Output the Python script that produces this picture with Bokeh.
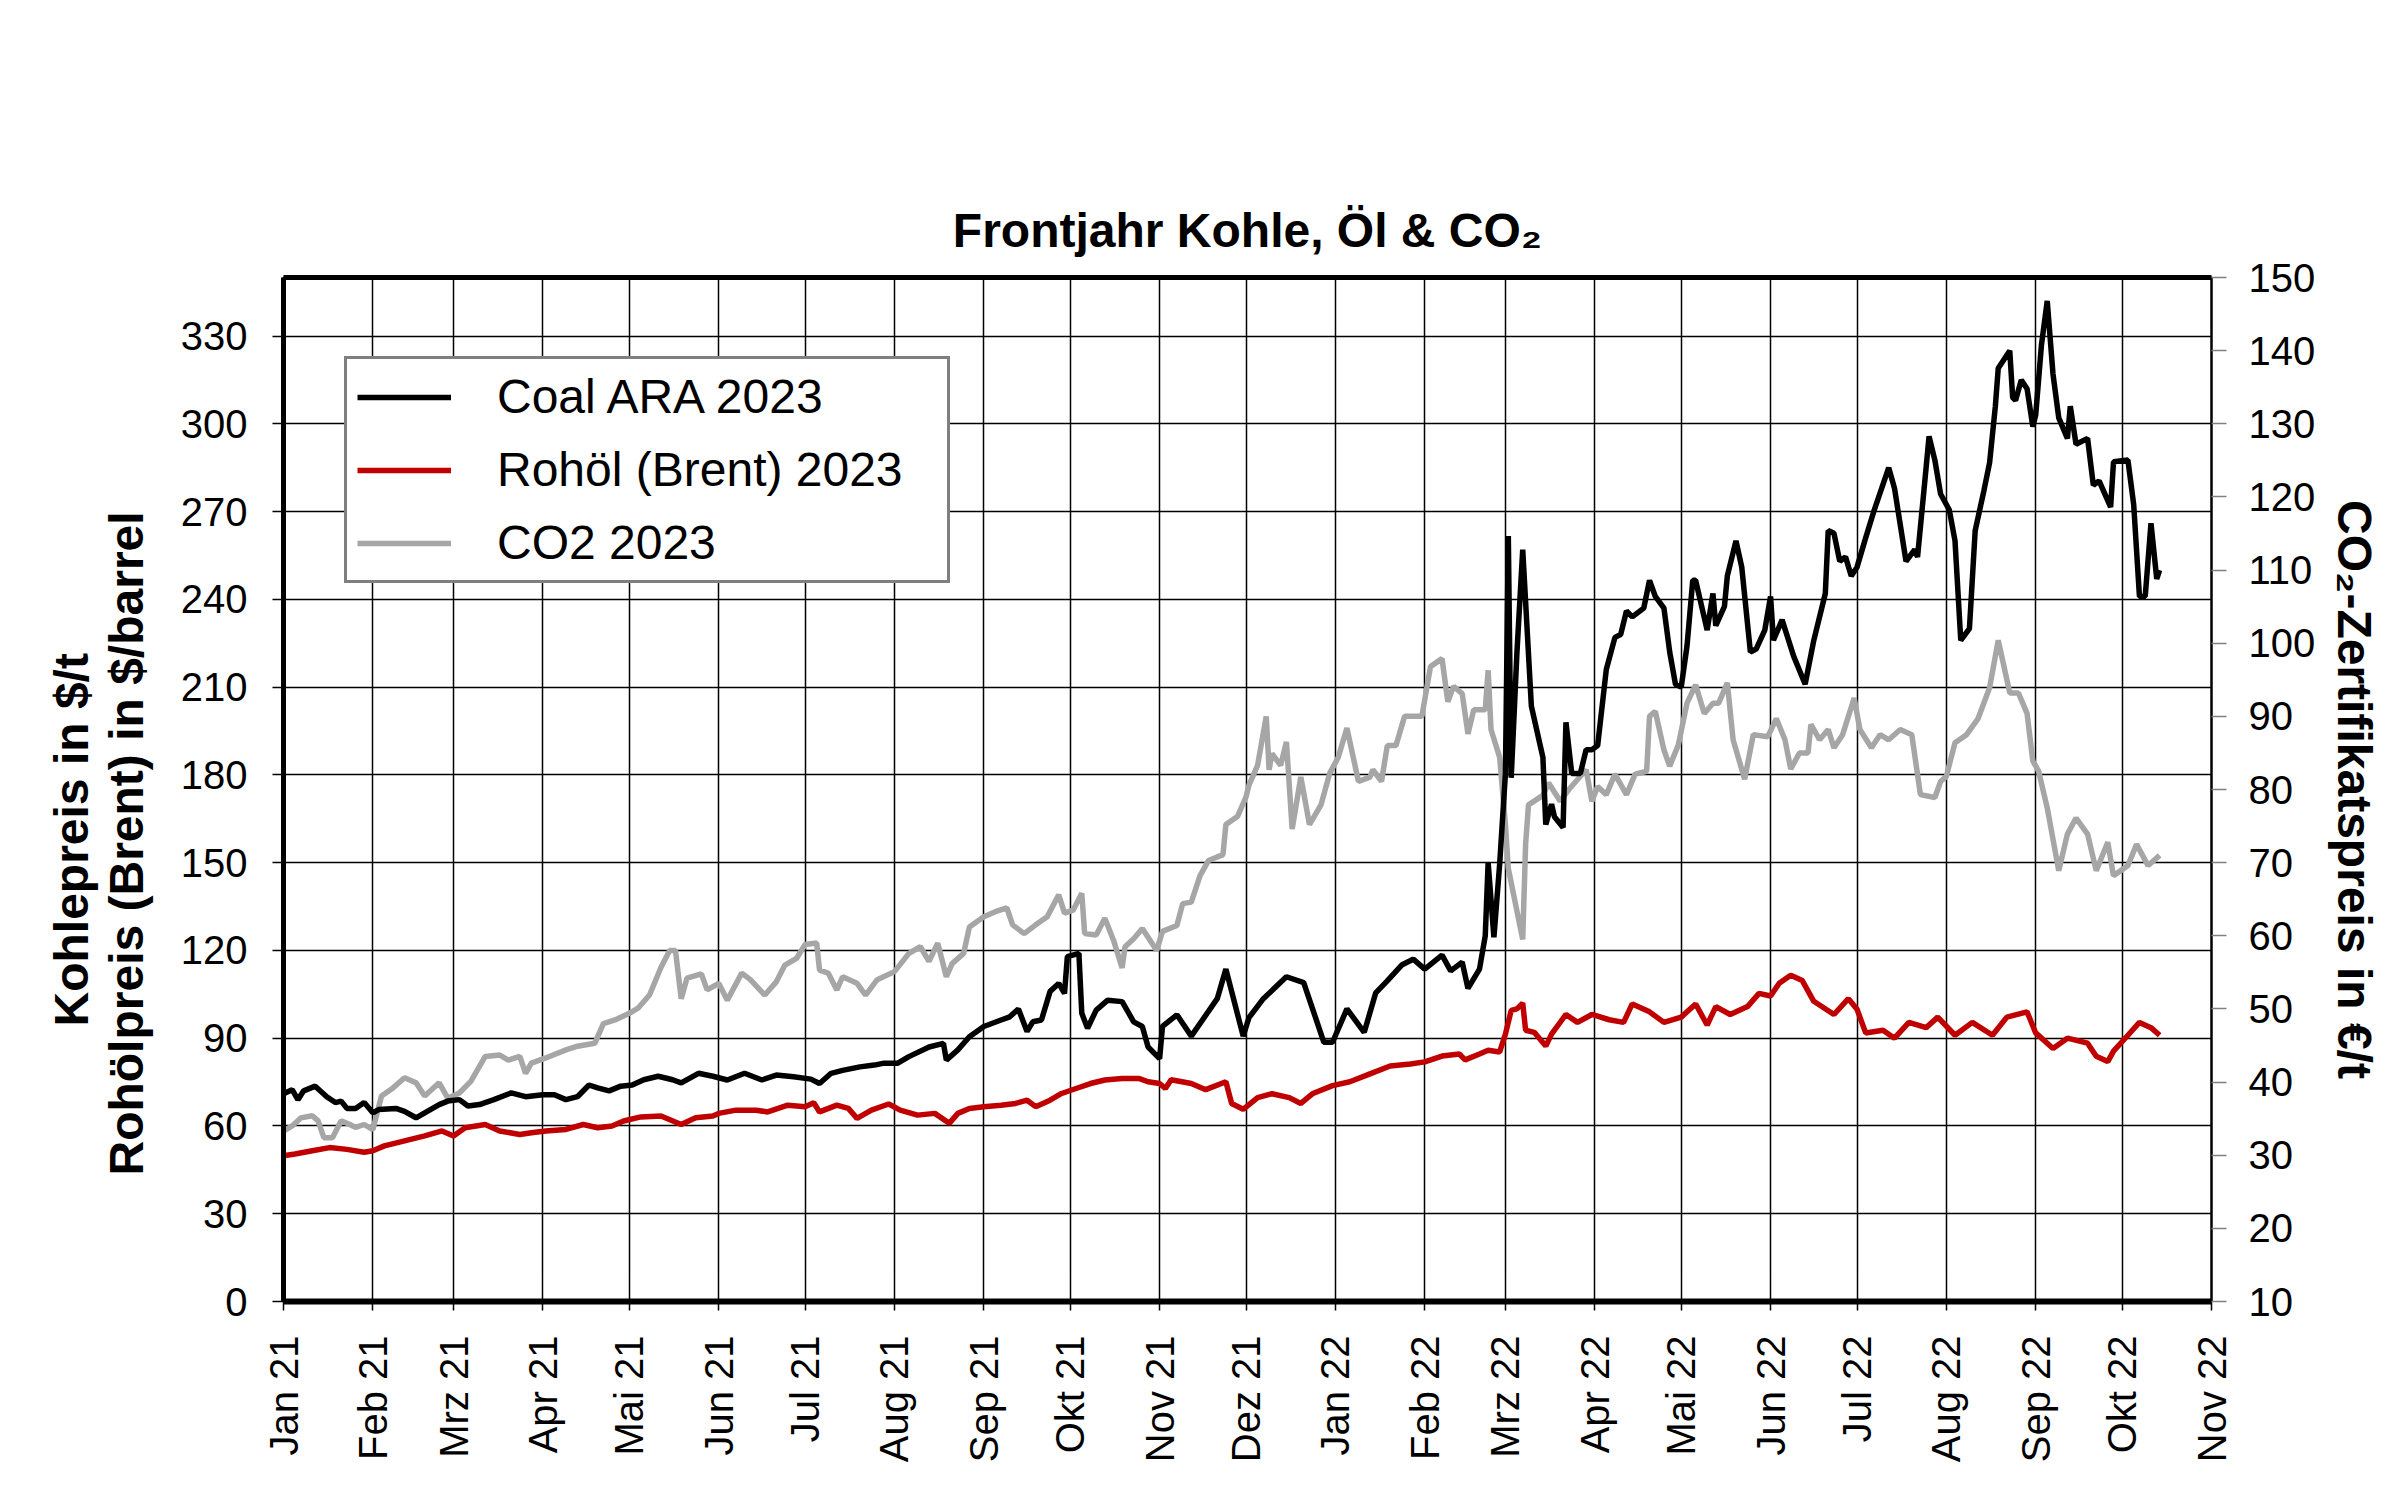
import math
import pandas as pd
from bokeh.plotting import figure
from bokeh.models import Range1d, LinearAxis, FixedTicker, Legend, LegendItem, Title, ColumnDataSource
from bokeh.embed import file_html
from bokeh.resources import INLINE

FONT = "Liberation Sans"

# ---------------- data ----------------
month_starts = ["2021-01-01", "2021-02-01", "2021-03-01", "2021-04-01", "2021-05-01", "2021-06-01",
                "2021-07-01", "2021-08-01", "2021-09-01", "2021-10-01", "2021-11-01", "2021-12-01",
                "2022-01-01", "2022-02-01", "2022-03-01", "2022-04-01", "2022-05-01", "2022-06-01",
                "2022-07-01", "2022-08-01", "2022-09-01", "2022-10-01", "2022-11-01"]
month_labels = ["Jan 21", "Feb 21", "Mrz 21", "Apr 21", "Mai 21", "Jun 21", "Jul 21", "Aug 21",
                "Sep 21", "Okt 21", "Nov 21", "Dez 21", "Jan 22", "Feb 22", "Mrz 22", "Apr 22",
                "Mai 22", "Jun 22", "Jul 22", "Aug 22", "Sep 22", "Okt 22", "Nov 22"]
left_ticks = [0, 30, 60, 90, 120, 150, 180, 210, 240, 270, 300, 330]
right_ticks = [10, 20, 30, 40, 50, 60, 70, 80, 90, 100, 110, 120, 130, 140, 150]

coal_dates = [
    "2021-01-01", "2021-01-04", "2021-01-06", "2021-01-08", "2021-01-12", "2021-01-16", "2021-01-19",
    "2021-01-21", "2021-01-23", "2021-01-26", "2021-01-29", "2021-02-01", "2021-02-03", "2021-02-09",
    "2021-02-12", "2021-02-16", "2021-02-19", "2021-02-24", "2021-02-27", "2021-03-03", "2021-03-06",
    "2021-03-10", "2021-03-15", "2021-03-21", "2021-03-26", "2021-04-01", "2021-04-05", "2021-04-09",
    "2021-04-13", "2021-04-17", "2021-04-20", "2021-04-24", "2021-04-28", "2021-05-02", "2021-05-06",
    "2021-05-11", "2021-05-16", "2021-05-19", "2021-05-25", "2021-05-30", "2021-06-04", "2021-06-10",
    "2021-06-16", "2021-06-21", "2021-06-27", "2021-07-03", "2021-07-06", "2021-07-10", "2021-07-14",
    "2021-07-20", "2021-07-25", "2021-07-28", "2021-08-02", "2021-08-06", "2021-08-13", "2021-08-18",
    "2021-08-19", "2021-08-23", "2021-08-27", "2021-09-01", "2021-09-07", "2021-09-10", "2021-09-13",
    "2021-09-16", "2021-09-18", "2021-09-21", "2021-09-24", "2021-09-27", "2021-09-29", "2021-09-30",
    "2021-10-04", "2021-10-05", "2021-10-07", "2021-10-10", "2021-10-14", "2021-10-19", "2021-10-23",
    "2021-10-26", "2021-10-28", "2021-11-01", "2021-11-02", "2021-11-07", "2021-11-12", "2021-11-21",
    "2021-11-24", "2021-11-30", "2021-12-02", "2021-12-07", "2021-12-15", "2021-12-21", "2021-12-28",
    "2021-12-31", "2022-01-05", "2022-01-11", "2022-01-15", "2022-01-19", "2022-01-24", "2022-01-28",
    "2022-02-01", "2022-02-07", "2022-02-10", "2022-02-14", "2022-02-16", "2022-02-20", "2022-02-22",
    "2022-02-23", "2022-02-25", "2022-02-27", "2022-03-01", "2022-03-02", "2022-03-03", "2022-03-05",
    "2022-03-07", "2022-03-10", "2022-03-14", "2022-03-15", "2022-03-17", "2022-03-18", "2022-03-21",
    "2022-03-22", "2022-03-24", "2022-03-27", "2022-03-29", "2022-03-31", "2022-04-02", "2022-04-05",
    "2022-04-08", "2022-04-10", "2022-04-12", "2022-04-14", "2022-04-18", "2022-04-20", "2022-04-22",
    "2022-04-25", "2022-04-27", "2022-04-29", "2022-05-01", "2022-05-03", "2022-05-05", "2022-05-06",
    "2022-05-10", "2022-05-12", "2022-05-13", "2022-05-16", "2022-05-17", "2022-05-20", "2022-05-22",
    "2022-05-25", "2022-05-27", "2022-05-30", "2022-06-01", "2022-06-02", "2022-06-05", "2022-06-09",
    "2022-06-13", "2022-06-16", "2022-06-20", "2022-06-21", "2022-06-23", "2022-06-25", "2022-06-27",
    "2022-06-29", "2022-07-01", "2022-07-04", "2022-07-07", "2022-07-12", "2022-07-14", "2022-07-18",
    "2022-07-21", "2022-07-22", "2022-07-24", "2022-07-26", "2022-07-28", "2022-07-30", "2022-08-02",
    "2022-08-04", "2022-08-06", "2022-08-09", "2022-08-11", "2022-08-14", "2022-08-16", "2022-08-18",
    "2022-08-19", "2022-08-23", "2022-08-24", "2022-08-25", "2022-08-27", "2022-08-29", "2022-08-31",
    "2022-09-01", "2022-09-03", "2022-09-05", "2022-09-07", "2022-09-09", "2022-09-12", "2022-09-13",
    "2022-09-15", "2022-09-19", "2022-09-21", "2022-09-23", "2022-09-27", "2022-09-28", "2022-10-03",
    "2022-10-05", "2022-10-07", "2022-10-09", "2022-10-11", "2022-10-13", "2022-10-14"]
coal_values = [
    71, 72.4, 69, 72, 73.6, 70, 68,
    68.5, 66, 66, 68, 64.5, 65.6, 66,
    65, 62.8, 64.5, 67.3, 68.5, 69, 66.8,
    67.3, 69, 71.3, 70, 70.7, 70.7, 69,
    70, 74, 73, 72, 73.6, 74, 75.8,
    77, 75.8, 74.7, 78, 77, 75.7, 78,
    75.7, 77.4, 76.8, 76, 74.5, 78, 79,
    80.2, 80.8, 81.4, 81.4, 83.7, 87, 88.2,
    82.5, 86, 90.5, 94, 96.2, 97.3, 100,
    92.3, 95.6, 96.2, 106, 108.7, 105.3, 117.9,
    119, 98.5, 93.4, 99.6, 103, 102.5, 95.6,
    94, 87, 83, 94, 98, 90.7, 103.5,
    113.6, 90.7, 97, 103.5, 111, 109, 88.6,
    88.6, 100, 92, 105.5, 109.6, 115, 117,
    113.6, 118.4, 113, 116, 107, 113.6, 125,
    150, 124.5, 149.5, 180.5, 261.6, 179, 222,
    257, 203.5, 186, 163, 170, 165.7, 162,
    198, 180.5, 180.5, 188.6, 188.6, 190, 216,
    227, 228, 236, 234, 237, 246.5, 241,
    237, 222, 211, 210, 224, 246.5, 246.5,
    229.5, 242, 231, 237.6, 248, 260, 251,
    222, 223, 229.5, 241, 226, 233, 220.6,
    211, 226, 242, 263.5, 262.6, 253, 254.5,
    248, 251, 261, 270.6, 285, 278, 253,
    257, 254.5, 275, 295.7, 287.6, 276, 270.6,
    260, 226, 230, 263.5, 277, 286.7, 306,
    319, 325, 309, 308, 315, 312, 299,
    303, 327, 342, 317, 302, 295, 306,
    293, 295, 279, 280.5, 271.5, 287, 287.6,
    272.4, 241, 241, 266, 247, 250]

brent_dates = [
    "2021-01-01", "2021-01-05", "2021-01-11", "2021-01-17", "2021-01-23", "2021-01-29", "2021-02-01",
    "2021-02-05", "2021-02-12", "2021-02-19", "2021-02-25", "2021-03-01", "2021-03-05", "2021-03-12",
    "2021-03-17", "2021-03-24", "2021-03-28", "2021-04-02", "2021-04-09", "2021-04-15", "2021-04-20",
    "2021-04-25", "2021-04-29", "2021-05-05", "2021-05-12", "2021-05-19", "2021-05-24", "2021-05-30",
    "2021-06-01", "2021-06-07", "2021-06-14", "2021-06-18", "2021-06-25", "2021-07-01", "2021-07-04",
    "2021-07-06", "2021-07-12", "2021-07-16", "2021-07-19", "2021-07-24", "2021-07-30", "2021-08-03",
    "2021-08-09", "2021-08-15", "2021-08-20", "2021-08-23", "2021-08-27", "2021-09-01", "2021-09-07",
    "2021-09-12", "2021-09-16", "2021-09-19", "2021-09-24", "2021-09-28", "2021-10-03", "2021-10-08",
    "2021-10-13", "2021-10-19", "2021-10-25", "2021-10-28", "2021-11-01", "2021-11-03", "2021-11-05",
    "2021-11-12", "2021-11-17", "2021-11-24", "2021-11-26", "2021-11-30", "2021-12-05", "2021-12-10",
    "2021-12-16", "2021-12-20", "2021-12-24", "2021-12-31", "2022-01-06", "2022-01-13", "2022-01-20",
    "2022-01-27", "2022-02-01", "2022-02-07", "2022-02-13", "2022-02-15", "2022-02-20", "2022-02-23",
    "2022-02-27", "2022-03-01", "2022-03-03", "2022-03-05", "2022-03-07", "2022-03-08", "2022-03-11",
    "2022-03-15", "2022-03-17", "2022-03-22", "2022-03-26", "2022-03-31", "2022-04-06", "2022-04-11",
    "2022-04-14", "2022-04-20", "2022-04-25", "2022-05-01", "2022-05-06", "2022-05-10", "2022-05-13",
    "2022-05-18", "2022-05-24", "2022-05-28", "2022-06-01", "2022-06-04", "2022-06-08", "2022-06-12",
    "2022-06-16", "2022-06-23", "2022-06-28", "2022-07-01", "2022-07-04", "2022-07-10", "2022-07-14",
    "2022-07-19", "2022-07-25", "2022-07-29", "2022-08-04", "2022-08-10", "2022-08-17", "2022-08-22",
    "2022-08-29", "2022-09-01", "2022-09-07", "2022-09-12", "2022-09-19", "2022-09-22", "2022-09-26",
    "2022-09-28", "2022-10-03", "2022-10-07", "2022-10-11", "2022-10-14"]
brent_values = [
    49.8, 50.4, 51.5, 52.6, 52, 51, 51.5,
    53.2, 54.9, 56.6, 58.3, 56.6, 59.4, 60.5,
    58.3, 57.1, 57.7, 58.3, 58.8, 60.5, 59.4,
    60, 61.7, 63.1, 63.4, 60.5, 62.8, 63.4,
    64.3, 65.4, 65.4, 64.8, 67.1, 66.6, 67.9,
    64.8, 67.1, 66, 62.6, 65.4, 67.5, 65.4,
    63.7, 64.3, 60.9, 64.3, 66, 66.6, 67.1,
    67.7, 68.8, 66.6, 68.8, 71.1, 72.8, 74.5,
    75.7, 76.2, 76.2, 75.1, 74.5, 72.8, 75.8,
    74.5, 72.4, 75.1, 67.7, 65.7, 69.7, 71,
    69.7, 67.7, 71, 73.8, 75.1, 77.8, 80.5,
    81.2, 81.9, 83.9, 84.6, 82.6, 84.6, 85.9,
    85.3, 91.4, 99.5, 100, 102, 92.7, 92,
    87.3, 91.4, 98.1, 95.4, 98.1, 96.3, 95.4,
    101.7, 99, 95.4, 97.2, 101.7, 94.5, 100.8,
    98.1, 100.8, 105.3, 104.4, 108.8, 111.5, 109.7,
    102.6, 98.1, 103.5, 99.9, 91.8, 92.7, 90,
    95.4, 93.6, 97.2, 91, 95.4, 91, 97.2,
    99, 91.8, 86.5, 90, 88.3, 83.8, 82,
    85.6, 91, 95.4, 93.6, 91]

co2_dates = [
    "2021-01-01", "2021-01-04", "2021-01-07", "2021-01-11", "2021-01-13", "2021-01-15", "2021-01-18",
    "2021-01-21", "2021-01-24", "2021-01-26", "2021-01-29", "2021-02-01", "2021-02-04", "2021-02-08",
    "2021-02-12", "2021-02-16", "2021-02-19", "2021-02-24", "2021-02-27", "2021-03-03", "2021-03-07",
    "2021-03-12", "2021-03-17", "2021-03-20", "2021-03-24", "2021-03-26", "2021-03-28", "2021-04-02",
    "2021-04-09", "2021-04-13", "2021-04-19", "2021-04-22", "2021-04-26", "2021-05-01", "2021-05-04",
    "2021-05-08", "2021-05-12", "2021-05-15", "2021-05-17", "2021-05-19", "2021-05-21", "2021-05-26",
    "2021-05-28", "2021-06-01", "2021-06-04", "2021-06-09", "2021-06-12", "2021-06-17", "2021-06-21",
    "2021-06-24", "2021-06-28", "2021-07-01", "2021-07-05", "2021-07-06", "2021-07-09", "2021-07-12",
    "2021-07-14", "2021-07-19", "2021-07-22", "2021-07-26", "2021-08-01", "2021-08-06", "2021-08-10",
    "2021-08-13", "2021-08-16", "2021-08-19", "2021-08-21", "2021-08-25", "2021-08-27", "2021-09-01",
    "2021-09-05", "2021-09-09", "2021-09-11", "2021-09-15", "2021-09-19", "2021-09-23", "2021-09-27",
    "2021-09-29", "2021-10-02", "2021-10-05", "2021-10-06", "2021-10-10", "2021-10-13", "2021-10-16",
    "2021-10-19", "2021-10-20", "2021-10-23", "2021-10-26", "2021-10-31", "2021-11-02", "2021-11-07",
    "2021-11-09", "2021-11-12", "2021-11-15", "2021-11-18", "2021-11-23", "2021-11-24", "2021-11-28",
    "2021-12-01", "2021-12-02", "2021-12-05", "2021-12-08", "2021-12-09", "2021-12-10", "2021-12-13",
    "2021-12-15", "2021-12-17", "2021-12-20", "2021-12-23", "2021-12-27", "2021-12-30", "2022-01-02",
    "2022-01-05", "2022-01-09", "2022-01-13", "2022-01-14", "2022-01-17", "2022-01-19", "2022-01-22",
    "2022-01-25", "2022-01-31", "2022-02-03", "2022-02-07", "2022-02-09", "2022-02-11", "2022-02-14",
    "2022-02-16", "2022-02-18", "2022-02-22", "2022-02-23", "2022-02-24", "2022-02-27", "2022-03-01",
    "2022-03-02", "2022-03-07", "2022-03-08", "2022-03-09", "2022-03-14", "2022-03-16", "2022-03-20",
    "2022-03-23", "2022-03-29", "2022-03-31", "2022-04-02", "2022-04-05", "2022-04-08", "2022-04-12",
    "2022-04-15", "2022-04-19", "2022-04-20", "2022-04-22", "2022-04-25", "2022-04-27", "2022-04-30",
    "2022-05-03", "2022-05-06", "2022-05-09", "2022-05-12", "2022-05-14", "2022-05-17", "2022-05-19",
    "2022-05-23", "2022-05-26", "2022-05-31", "2022-06-03", "2022-06-06", "2022-06-08", "2022-06-11",
    "2022-06-14", "2022-06-15", "2022-06-18", "2022-06-21", "2022-06-23", "2022-06-26", "2022-06-30",
    "2022-07-02", "2022-07-06", "2022-07-09", "2022-07-12", "2022-07-16", "2022-07-20", "2022-07-23",
    "2022-07-28", "2022-07-30", "2022-08-01", "2022-08-04", "2022-08-08", "2022-08-12", "2022-08-16",
    "2022-08-19", "2022-08-23", "2022-08-26", "2022-08-29", "2022-08-31", "2022-09-02", "2022-09-05",
    "2022-09-09", "2022-09-12", "2022-09-15", "2022-09-19", "2022-09-22", "2022-09-26", "2022-09-28",
    "2022-10-03", "2022-10-06", "2022-10-10", "2022-10-14"]
co2_values = [
    33.3, 34, 35.1, 35.4, 34.7, 32.4, 32.4,
    34.7, 34.2, 33.8, 34.2, 33.5, 38.1, 39.2,
    40.6, 39.9, 38.1, 39.9, 37.8, 38.5, 40.1,
    43.5, 43.7, 43, 43.5, 41.2, 42.6, 43.3,
    44.4, 44.9, 45.3, 48, 48.5, 49.4, 50.1,
    51.9, 55.7, 58, 58, 51.4, 54.2, 54.8,
    52.6, 53.5, 51.2, 54.9, 54, 51.9, 53.7,
    56, 56.9, 58.8, 59, 55.3, 54.9, 52.6,
    54.4, 53.5, 51.9, 54, 55.1, 57.6, 58.5,
    56.5, 59, 54.4, 56.2, 57.6, 61.2, 62.6,
    63.3, 63.8, 61.5, 60.3, 61.5, 62.6, 65.6,
    63.1, 63.5, 65.8, 60.3, 60.1, 62.4, 59.4,
    55.6, 58.5, 59.6, 61, 58, 60.6, 61.4,
    64.4, 64.6, 68.2, 70.3, 71.1, 75.2, 76.3,
    79, 80.6, 83.3, 90, 82.7, 84.9, 83.3,
    86.5, 74.6, 81.7, 75.2, 77.9, 82.2, 84.4,
    88.4, 81.1, 81.7, 82.7, 81.1, 86, 86,
    90, 90, 96.8, 97.9, 92, 94.1, 93.1,
    87.6, 90.9, 90.9, 96.3, 88.2, 84.4, 75.2,
    69.2, 59.5, 72.5, 77.9, 79.2, 80.9, 78.4,
    80, 82.7, 78.4, 80.4, 79.3, 82.1, 79.3,
    82.1, 82.5, 90, 90.7, 85.4, 83.2, 86.1,
    91.8, 94.3, 90.4, 91.8, 91.8, 94.6, 86.8,
    81.4, 87.5, 87.2, 89.7, 86.8, 82.8, 85,
    85, 88.9, 86.8, 88.2, 85.7, 87.5, 92.5,
    88.2, 85.7, 87.5, 86.8, 88.2, 87.5, 79.3,
    78.9, 81.1, 81.8, 86.4, 87.5, 89.7, 93.9,
    100.4, 93.2, 93.2, 90.4, 83.9, 82.5, 77.5,
    68.9, 73.9, 76.1, 73.9, 68.9, 72.8, 68.2,
    69.6, 72.5, 69.6, 71]

series_names = ["Coal ARA 2023", "Rohöl (Brent) 2023", "CO2 2023"]
title_text = "Frontjahr Kohle, Öl & CO\u2082"
left_label_1 = "Kohlepreis in $/t"
left_label_2 = "Rohölpreis (Brent) in $/barrel"
right_label = "CO\u2082-Zertifikatspreis in €/t"

# ---------------- figure ----------------
month_ms = [int(pd.Timestamp(d).value // 10**6) for d in month_starts]

p = figure(width=2384, height=1469, x_axis_type="datetime",
           x_range=Range1d(start=month_ms[0], end=month_ms[-1]),
           y_range=Range1d(start=0, end=350),
           output_backend="svg", toolbar_location=None,
           min_border_left=283, min_border_right=168, min_border_top=277, min_border_bottom=168,
           background_fill_color="white", border_fill_color="white")
p.extra_y_ranges = {"co2": Range1d(start=10, end=150)}
p.outline_line_color = "black"
p.outline_line_width = 2

# title
p.title.text = title_text
p.title.align = "center"
p.title.text_font = FONT
p.title.text_font_size = "48px"
p.title.text_font_style = "bold"
p.title.text_color = "black"
p.title.standoff = 42

# grids
xticker = FixedTicker(ticks=month_ms)
yticker = FixedTicker(ticks=left_ticks)
p.xgrid.ticker = xticker
p.ygrid.ticker = yticker
for g in (p.xgrid[0], p.ygrid[0]):
    g.grid_line_color = "black"
    g.grid_line_width = 1.5
    g.grid_line_alpha = 1.0

# x axis
xax = p.xaxis[0]
xax.ticker = xticker
xax.major_label_overrides = {t: lab for t, lab in zip(month_ms, month_labels)}
xax.major_label_orientation = math.pi / 2
xax.major_label_text_font = FONT
xax.major_label_text_font_size = "40px"
xax.major_label_text_color = "black"
xax.major_label_standoff = 25
xax.major_tick_in = 0
xax.major_tick_out = 9
xax.major_tick_line_color = "black"
xax.major_tick_line_width = 1.5
xax.minor_tick_line_color = None
xax.axis_line_color = "black"
xax.axis_line_width = 6

# left axis
yax = p.yaxis[0]
yax.ticker = yticker
yax.major_label_text_font = FONT
yax.major_label_text_font_size = "40px"
yax.major_label_text_color = "black"
yax.major_label_standoff = 25
yax.major_tick_in = 0
yax.major_tick_out = 11
yax.major_tick_line_color = "black"
yax.major_tick_line_width = 1.5
yax.minor_tick_line_color = None
yax.axis_line_color = "black"
yax.axis_line_width = 5

# spacer between left tick labels and the two-line left title:
# one white (invisible) tick with an empty label
spacer = LinearAxis(ticker=FixedTicker(ticks=[175]))
spacer.major_label_overrides = {175: ""}
spacer.major_tick_in = 0
spacer.major_tick_out = 25
spacer.major_tick_line_color = "white"
spacer.major_tick_line_width = 1
spacer.major_label_standoff = 0
spacer.major_label_text_font_size = "1px"
spacer.minor_tick_line_color = None
spacer.axis_line_color = None
p.add_layout(spacer, "left")

# left titles (two lines), start offset from the frame bottom
p.add_layout(Title(text=left_label_2, align="left", offset=126, standoff=0,
                   text_font=FONT, text_font_size="48px", text_font_style="bold",
                   text_color="black"), "left")
p.add_layout(Title(text=left_label_1, align="left", offset=275, standoff=0,
                   text_font=FONT, text_font_size="48px", text_font_style="bold",
                   text_color="black"), "left")

# right axis
rax = LinearAxis(y_range_name="co2", ticker=FixedTicker(ticks=right_ticks), axis_label=right_label)
rax.major_label_text_font = FONT
rax.major_label_text_font_size = "40px"
rax.major_label_text_color = "black"
rax.major_label_standoff = 22
rax.major_tick_in = 0
rax.major_tick_out = 15
rax.major_tick_line_color = "#808080"
rax.major_tick_line_width = 1.5
rax.minor_tick_line_color = None
rax.axis_line_color = "black"
rax.axis_line_width = 2
rax.axis_label_text_font = FONT
rax.axis_label_text_font_size = "48px"
rax.axis_label_text_font_style = "bold"
rax.axis_label_text_color = "black"
rax.axis_label_standoff = 10
p.add_layout(rax, "right")

# top border as an empty axis
tax = LinearAxis(ticker=FixedTicker(ticks=[]))
tax.major_label_text_font_size = "0px"
tax.major_tick_line_color = None
tax.minor_tick_line_color = None
tax.axis_line_color = "black"
tax.axis_line_width = 5
p.add_layout(tax, "above")

# lines
src_coal = ColumnDataSource(dict(x=pd.to_datetime(coal_dates), y=coal_values))
src_brent = ColumnDataSource(dict(x=pd.to_datetime(brent_dates), y=brent_values))
src_co2 = ColumnDataSource(dict(x=pd.to_datetime(co2_dates), y=co2_values))

r_co2 = p.line("x", "y", source=src_co2, y_range_name="co2", line_color="#a6a6a6", line_width=5.5)
r_brent = p.line("x", "y", source=src_brent, line_color="#c00000", line_width=5.5)
r_coal = p.line("x", "y", source=src_coal, line_color="black", line_width=5.5)

legend = Legend(items=[LegendItem(label=series_names[0], renderers=[r_coal]),
                       LegendItem(label=series_names[1], renderers=[r_brent]),
                       LegendItem(label=series_names[2], renderers=[r_co2])],
                location=(61, 718))
legend.label_text_font = FONT
legend.label_text_font_size = "48px"
legend.label_text_color = "black"
legend.glyph_width = 94
legend.glyph_height = 54
legend.label_height = 54
legend.label_width = 440
legend.label_standoff = 46
legend.padding = 10
legend.spacing = 18
legend.margin = 0
legend.border_line_color = "black"
legend.border_line_width = 3.5
legend.background_fill_color = "white"
legend.background_fill_alpha = 1.0
p.add_layout(legend)

open("out.html", "w").write(file_html(p, INLINE))
